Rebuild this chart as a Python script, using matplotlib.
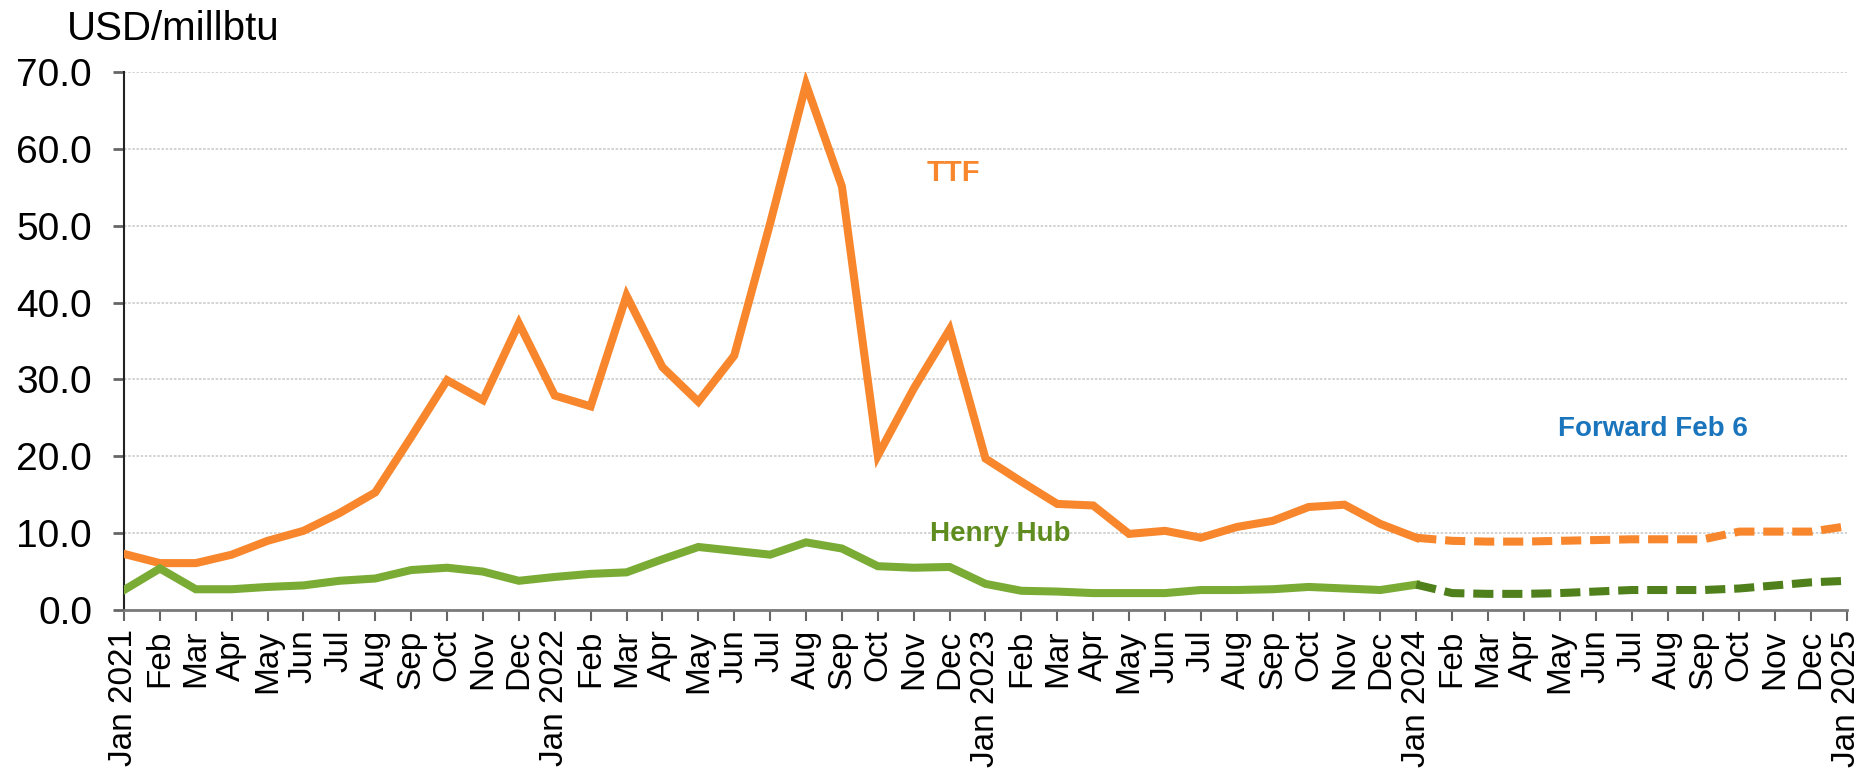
import matplotlib
matplotlib.use("Agg")
import matplotlib.pyplot as plt

plt.rcParams["font.family"] = ["Liberation Sans", "DejaVu Sans"]

# month labels Jan 2021 .. Jan 2025
months = ["Jan", "Feb", "Mar", "Apr", "May", "Jun",
          "Jul", "Aug", "Sep", "Oct", "Nov", "Dec"]
tick_labels = []
for yr in [2021, 2022, 2023, 2024]:
    for m in months:
        tick_labels.append(f"Jan {yr}" if m == "Jan" else m)
tick_labels.append("Jan 2025")

# historical monthly averages, Jan 2021 .. Jan 2024
ttf_hist = [7.3, 6.1, 6.1, 7.2, 9.0, 10.3, 12.6, 15.3, 22.5, 29.9, 27.3, 37.3,
            27.9, 26.5, 40.9, 31.6, 27.1, 33.1, 50.3, 68.4, 55.1, 20.1, 28.8, 36.5,
            19.7, 16.7, 13.8, 13.6, 9.9, 10.3, 9.4, 10.8, 11.6, 13.4, 13.7, 11.2,
            9.4]
hh_hist = [2.6, 5.4, 2.7, 2.7, 3.0, 3.2, 3.8, 4.1, 5.2, 5.5, 5.0, 3.8,
           4.3, 4.7, 4.9, 6.6, 8.2, 7.7, 7.2, 8.8, 8.0, 5.7, 5.5, 5.6,
           3.4, 2.5, 2.4, 2.2, 2.2, 2.2, 2.6, 2.6, 2.7, 3.0, 2.8, 2.6,
           3.3]

# forward curve (Feb 6), Jan 2024 .. Jan 2025
ttf_fwd = [9.4, 9.0, 8.9, 8.9, 9.0, 9.1, 9.2, 9.2, 9.2, 10.2, 10.2, 10.2, 10.9]
hh_fwd = [3.3, 2.2, 2.1, 2.1, 2.2, 2.4, 2.6, 2.6, 2.6, 2.8, 3.2, 3.6, 3.8]

ORANGE = "#F7862C"
GREEN = "#7AAB35"
GREEN_DARK = "#4F801C"
BLUE = "#1B75BC"

x_hist = list(range(len(ttf_hist)))
x_fwd = list(range(len(ttf_hist) - 1, len(ttf_hist) - 1 + len(ttf_fwd)))

fig = plt.figure(figsize=(18.72, 7.8), dpi=100)
ax = fig.add_axes([124 / 1872, 1 - 610 / 780, (1847 - 124) / 1872, (610 - 72) / 780])

lw = 5.8
ax.plot(x_hist, ttf_hist, color=ORANGE, lw=lw, solid_joinstyle="miter", zorder=3)
ax.plot(x_hist, hh_hist, color=GREEN, lw=lw, solid_joinstyle="miter", zorder=3)
ax.plot(x_fwd, ttf_fwd, color=ORANGE, lw=lw, dashes=(2.5, 1.1), zorder=3,
        clip_on=False)
ax.plot(x_fwd, hh_fwd, color=GREEN_DARK, lw=lw, dashes=(2.5, 1.1), zorder=3,
        clip_on=False)

ax.set_xlim(0, len(tick_labels) - 1)
ax.set_ylim(0, 70)
ax.set_yticks(range(0, 71, 10))
ax.set_yticklabels([f"{v:.1f}" for v in range(0, 71, 10)], fontsize=28)
ax.set_xticks(range(len(tick_labels)))
ax.set_xticklabels(tick_labels, rotation=90, fontsize=24, va="top", ha="center")

ax.grid(axis="y", color="#cccccc", lw=1.2, linestyle=(0, (1.5, 1)), zorder=0)
for s in ["top", "right"]:
    ax.spines[s].set_visible(False)
ax.spines["left"].set_color("#222222")
ax.spines["left"].set_linewidth(1.5)
ax.spines["bottom"].set_color("#7a7a7a")
ax.spines["bottom"].set_linewidth(2)
ax.tick_params(axis="y", length=8, width=2, color="#666666", pad=15)
ax.tick_params(axis="x", length=8, width=1.5, color="#666666", pad=6)

ax.text(23.1, 56.8, "TTF", color=ORANGE, fontsize=21, fontweight="bold",
        ha="center", va="center")
ax.text(24.4, 9.9, "Henry Hub", color="#5E8C1F", fontsize=20, fontweight="bold",
        ha="center", va="center")
ax.text(42.6, 23.6, "Forward Feb 6", color=BLUE, fontsize=20, fontweight="bold",
        ha="center", va="center")

fig.text(67 / 1872, 1 - 40 / 780, "USD/millbtu", fontsize=29, ha="left",
         va="baseline")

fig.savefig("out.png", dpi=100)
